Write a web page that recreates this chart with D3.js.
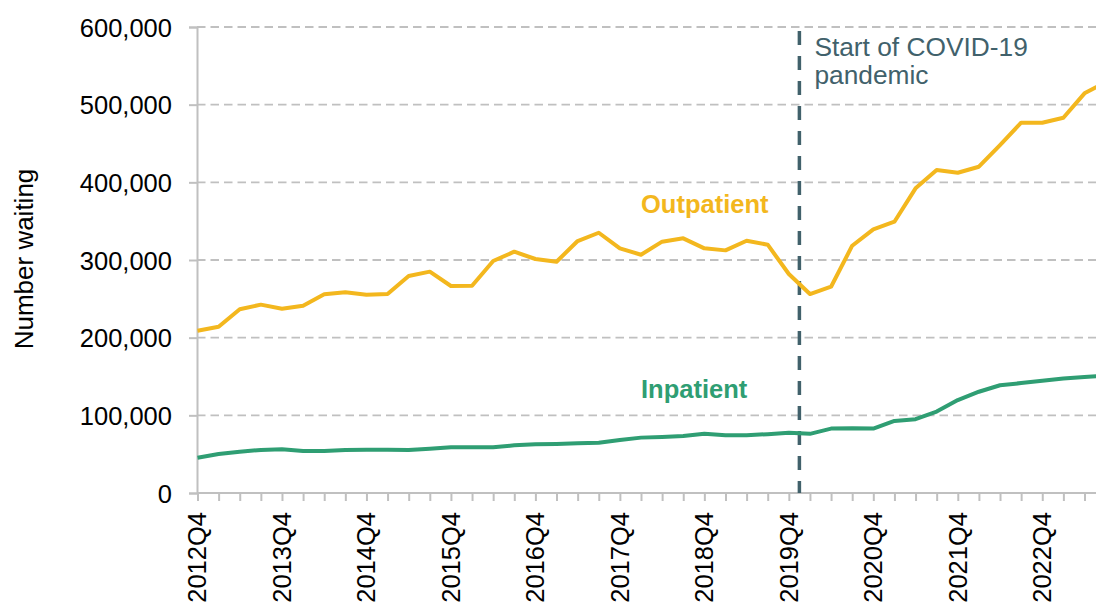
<!DOCTYPE html>
<html>
<head>
<meta charset="utf-8">
<script src="https://cdn.jsdelivr.net/npm/d3@7/dist/d3.min.js"></script>
<style>
  html, body { margin: 0; padding: 0; background: #fff; }
  svg { display: block; font-family: "Liberation Sans", Arial, sans-serif; }
</style>
</head>
<body>
<svg id="chart" width="1096" height="606"></svg>
<script>
const quarters = ["2012Q4","2013Q1","2013Q2","2013Q3","2013Q4","2014Q1","2014Q2","2014Q3","2014Q4",
  "2015Q1","2015Q2","2015Q3","2015Q4","2016Q1","2016Q2","2016Q3","2016Q4",
  "2017Q1","2017Q2","2017Q3","2017Q4","2018Q1","2018Q2","2018Q3","2018Q4",
  "2019Q1","2019Q2","2019Q3","2019Q4","2020Q1","2020Q2","2020Q3","2020Q4",
  "2021Q1","2021Q2","2021Q3","2021Q4","2022Q1","2022Q2","2022Q3","2022Q4",
  "2023Q1","2023Q2","2023Q3"];
const outpatient = [209000,214000,236500,242500,237300,241200,255800,258400,255400,
  256200,279400,285000,266500,266900,298700,310700,301300,
  297800,324400,335100,315000,306800,323600,327900,315000,
  312400,324800,319700,282000,256200,265600,318400,339500,
  349300,392300,415900,412400,420100,448000,476800,476800,
  483200,514600,529000];
const inpatient = [45500,50200,53200,55400,56200,54100,54100,55400,55800,
  55800,55400,57100,58800,58800,58800,61400,62700,
  63200,64000,64800,68200,71300,72200,73500,76200,
  74400,74400,75800,77600,76200,82900,83400,82900,
  92800,95000,104900,119700,130400,138700,141500,144500,
  147500,149500,151000];
const yTicks = [0,100000,200000,300000,400000,500000,600000];
const xLabelQuarters = ["2012Q4","2013Q4","2014Q4","2015Q4","2016Q4","2017Q4","2018Q4","2019Q4","2020Q4","2021Q4","2022Q4"];
const covidQuarterPos = 28.5; // between 2019Q4 and 2020Q1
const seriesNames = ["Outpatient","Inpatient"];
const covidLabel = ["Start of COVID-19","pandemic"];
const yTitle = "Number waiting";

const svg = d3.select("#chart");
const W = 1096, H = 606;
const x = d3.scaleLinear().domain([0, 42]).range([197.5, 1084.5]);
const y = d3.scaleLinear().domain([0, 600000]).range([493, 27]);
const fs = 25.5;
const gridCol = "#c0c0c0";
const yellow = "#f3b71e", green = "#2f9e73", slate = "#41616b";

// gridlines
svg.append("g").selectAll("line").data(yTicks.filter(d => d > 0)).join("line")
  .attr("x1", 197).attr("x2", W).attr("y1", d => y(d)).attr("y2", d => y(d))
  .attr("stroke", gridCol).attr("stroke-width", 1.8).attr("stroke-dasharray", "8.5,5");

// y axis
const yAxis = svg.append("g").attr("transform", "translate(197,0)")
  .call(d3.axisLeft(y).tickValues(yTicks).tickSize(8).tickPadding(17).tickFormat(d3.format(",")));
yAxis.select(".domain").attr("stroke", gridCol).attr("stroke-width", 2);
yAxis.selectAll(".tick line").attr("stroke", gridCol).attr("stroke-width", 2);
yAxis.selectAll(".tick text").attr("font-size", fs).attr("fill", "#000")
  .attr("font-family", "Liberation Sans, Arial, sans-serif").attr("dy", "0.36em");

// x axis
const xAxis = svg.append("g").attr("transform", "translate(0,493)")
  .call(d3.axisBottom(x).tickValues(d3.range(0, quarters.length)).tickSize(8).tickFormat(""));
xAxis.select(".domain").remove();
svg.append("line").attr("x1", 197).attr("x2", W).attr("y1", 493).attr("y2", 493)
  .attr("stroke", gridCol).attr("stroke-width", 2);
xAxis.selectAll(".tick line").attr("stroke", gridCol).attr("stroke-width", 2);

svg.append("g").selectAll("text").data(xLabelQuarters).join("text")
  .attr("transform", d => `translate(${x(quarters.indexOf(d))},512) rotate(-90)`)
  .attr("text-anchor", "end").attr("dy", "0.35em")
  .attr("font-size", fs).attr("fill", "#000").text(d => d);

// y title
svg.append("text").attr("transform", "translate(33,259) rotate(-90)")
  .attr("text-anchor", "middle").attr("font-size", 26).attr("fill", "#000").text(yTitle);

// covid line
svg.append("line").attr("x1", x(covidQuarterPos)).attr("x2", x(covidQuarterPos))
  .attr("y1", 31).attr("y2", 493)
  .attr("stroke", slate).attr("stroke-width", 3.5).attr("stroke-dasharray", "14,11");
const ct = svg.append("text").attr("x", x(covidQuarterPos) + 15).attr("y", 56)
  .attr("font-size", 26.3).attr("fill", slate);
covidLabel.forEach((t, i) => ct.append("tspan").attr("x", x(covidQuarterPos) + 15).attr("dy", i ? 27.5 : 0).text(t));

// lines
const line = d3.line().x((d, i) => x(i)).y(d => y(d));
svg.append("path").datum(inpatient).attr("d", line).attr("fill", "none")
  .attr("stroke", green).attr("stroke-width", 4).attr("stroke-linejoin", "round");
svg.append("path").datum(outpatient).attr("d", line).attr("fill", "none")
  .attr("stroke", yellow).attr("stroke-width", 4).attr("stroke-linejoin", "round");

// series labels
svg.append("text").attr("x", x(quarters.indexOf("2018Q1"))).attr("y", y(360000))
  .attr("font-size", fs).attr("font-weight", "bold").attr("fill", yellow).text(seriesNames[0]);
svg.append("text").attr("x", x(quarters.indexOf("2018Q1"))).attr("y", y(122500))
  .attr("font-size", fs).attr("font-weight", "bold").attr("fill", green).text(seriesNames[1]);
</script>
</body>
</html>
